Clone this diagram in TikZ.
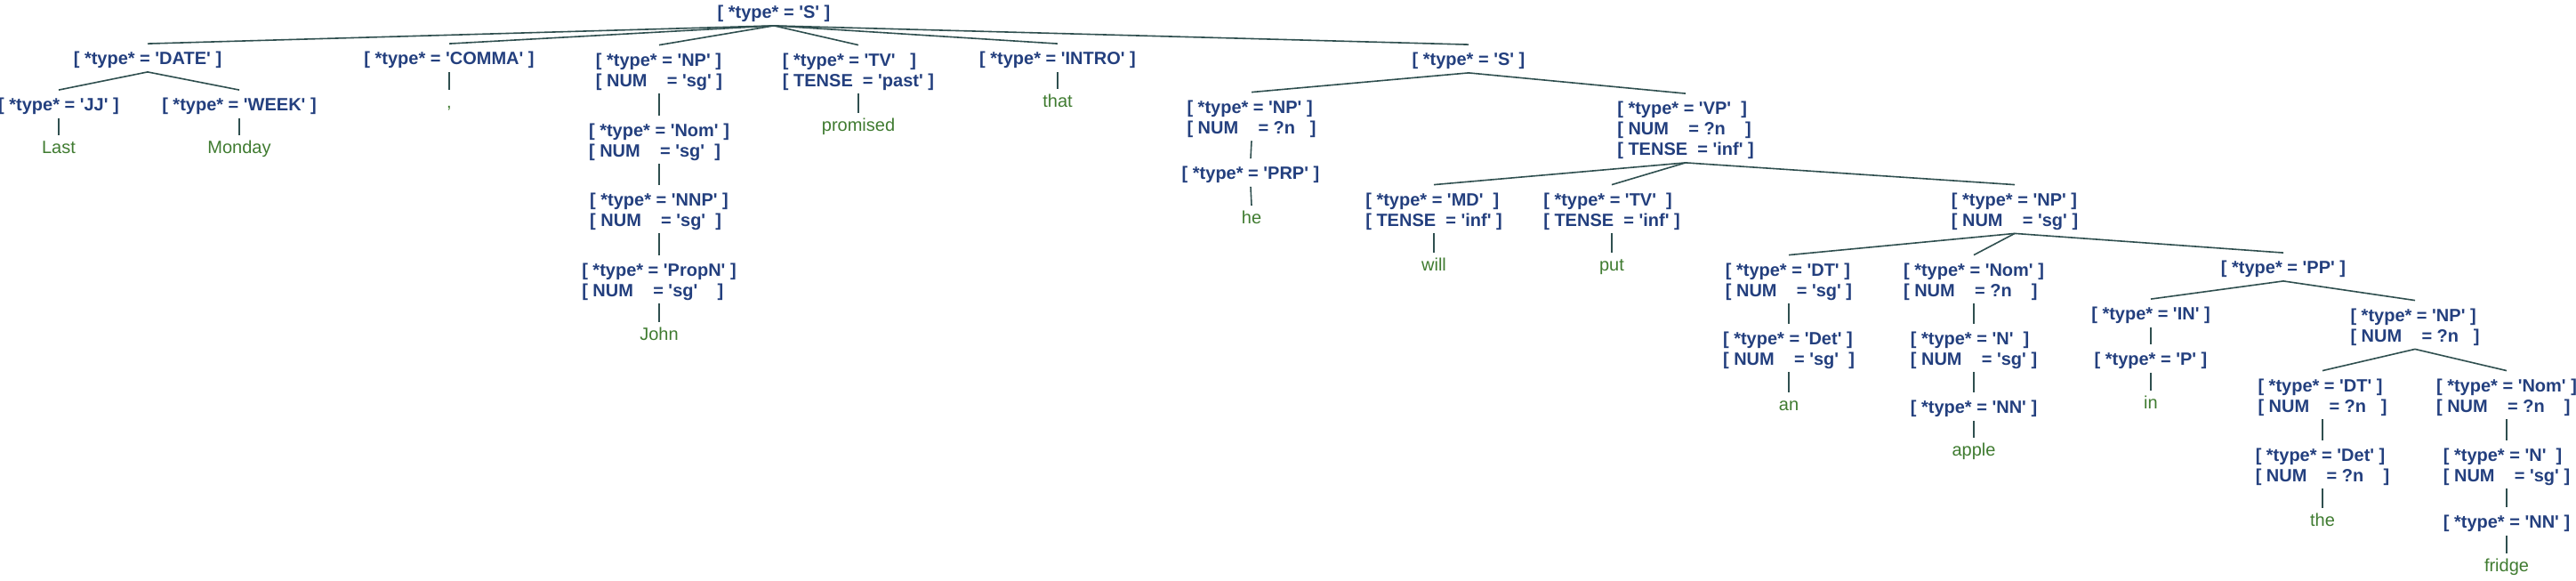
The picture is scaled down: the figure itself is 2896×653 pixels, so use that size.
\documentclass[tikz,border=0pt]{standalone}
\usepackage{fontspec}
\setmainfont{Liberation Sans}

\definecolor{fsblue}{HTML}{233F7E}
\definecolor{leafgreen}{HTML}{3F7B30}
\definecolor{branchgray}{HTML}{2F4F4F}

\newcommand{\q}[1]{\textquotesingle#1\textquotesingle}
\newcommand{\avm}[1]{\begin{tabular}{@{}l@{}}#1\end{tabular}}
% rows padded the way the feature structure prints them
\newcommand{\fty}[2][]{[ *type* = \q{#2}#1 ]}
\newcommand{\fnum}[2][]{\\ {[} NUM\ \ \ \ = #2#1 ]}
\newcommand{\ften}[2][]{\\ {[} TENSE\ \ = #2#1 ]}

\begin{document}
\begin{tikzpicture}[
    x=0.5pt, y=-0.5pt,
    fs/.style={text=fsblue, font=\fontsize{10}{11.5}\selectfont\bfseries, inner xsep=1pt, inner ysep=0.5pt},
    leaf/.style={text=leafgreen, font=\fontsize{10}{11.5}\selectfont, text height=6.5pt, text depth=2pt, inner ysep=0.5pt},
    branch/.style={draw=branchgray, line width=0.8pt}
]
\useasboundingbox (0,0) rectangle (2896,653);

% top level
\node[fs] (root) at (870,16) {\avm{\fty{S}}};
\node[fs] (date) at (166,68) {\avm{\fty{DATE}}};
\node[fs] (jj) at (66,120) {\avm{\fty{JJ}}};
\node[fs] (week) at (269,120) {\avm{\fty{WEEK}}};
\node[leaf] (wlast) at (66,168) {Last};
\node[leaf] (wmonday) at (269,168) {Monday};
\node[fs] (comma) at (505,68) {\avm{\fty{COMMA}}};
\node[leaf] (wcomma) at (505,117) {,};

% subject
\node[fs] (np1) at (741,81) {\avm{\fty{NP}\fnum{\q{sg}}}};
\node[fs] (nom1) at (741,160) {\avm{\fty{Nom}\fnum[\ ]{\q{sg}}}};
\node[fs] (nnp) at (741,238) {\avm{\fty{NNP}\fnum[\ ]{\q{sg}}}};
\node[fs] (propn) at (741,317) {\avm{\fty{PropN}\fnum[\ \ \ ]{\q{sg}}}};
\node[leaf] (wjohn) at (741,378) {John};
\node[fs] (tv1) at (965,81) {\avm{\fty[\ \ ]{TV}\ften{\q{past}}}};
\node[leaf] (wpromised) at (965,143) {promised};
\node[fs] (intro) at (1189,68) {\avm{\fty{INTRO}}};
\node[leaf] (wthat) at (1189,116) {that};

% embedded clause
\node[fs] (s2) at (1651,69) {\avm{\fty{S}}};
\node[fs] (np2) at (1407,134) {\avm{\fty{NP}\fnum[\ \ ]{?n}}};
\node[fs] (prp) at (1406,197) {\avm{\fty{PRP}}};
\node[leaf] (whe) at (1407,247) {he};
\node[fs] (vp) at (1895,147) {\avm{\fty[\ ]{VP}\fnum[\ \ \ ]{?n}\ften{\q{inf}}}};
\node[fs] (md) at (1612,238) {\avm{\fty[\ ]{MD}\ften{\q{inf}}}};
\node[leaf] (wwill) at (1612,300) {will};
\node[fs] (tv2) at (1812,238) {\avm{\fty[\ ]{TV}\ften{\q{inf}}}};
\node[leaf] (wput) at (1812,300) {put};

% object
\node[fs] (np3) at (2265,238) {\avm{\fty{NP}\fnum{\q{sg}}}};
\node[fs] (dt1) at (2011,317) {\avm{\fty{DT}\fnum{\q{sg}}}};
\node[fs] (det1) at (2011,394) {\avm{\fty{Det}\fnum[\ ]{\q{sg}}}};
\node[leaf] (wan) at (2011,457) {an};
\node[fs] (nom2) at (2219,317) {\avm{\fty{Nom}\fnum[\ \ \ ]{?n}}};
\node[fs] (n1) at (2219,394) {\avm{\fty[\ ]{N}\fnum{\q{sg}}}};
\node[fs] (nn1) at (2219,460) {\avm{\fty{NN}}};
\node[leaf] (wapple) at (2219,508) {apple};

% prepositional phrase
\node[fs] (pp) at (2567,303) {\avm{\fty{PP}}};
\node[fs] (in) at (2418,355) {\avm{\fty{IN}}};
\node[fs] (p) at (2418,406) {\avm{\fty{P}}};
\node[leaf] (win) at (2418,455) {in};
\node[fs] (np4) at (2715,368) {\avm{\fty{NP}\fnum[\ \ ]{?n}}};
\node[fs] (dt2) at (2611,447) {\avm{\fty{DT}\fnum[\ \ ]{?n}}};
\node[fs] (det2) at (2611,525) {\avm{\fty{Det}\fnum[\ \ \ ]{?n}}};
\node[leaf] (wthe) at (2611,587) {the};
\node[fs] (nom3) at (2818,447) {\avm{\fty{Nom}\fnum[\ \ \ ]{?n}}};
\node[fs] (n2) at (2818,525) {\avm{\fty[\ ]{N}\fnum{\q{sg}}}};
\node[fs] (nn2) at (2818,589) {\avm{\fty{NN}}};
\node[leaf] (wfridge) at (2818,638) {fridge};

\foreach \p/\c in {root/date, root/comma, root/np1, root/tv1, root/intro, root/s2,
    date/jj, date/week, jj/wlast, week/wmonday, comma/wcomma,
    np1/nom1, nom1/nnp, nnp/propn, propn/wjohn, tv1/wpromised, intro/wthat,
    s2/np2, s2/vp, np2/prp, prp/whe, vp/md, vp/tv2, vp/np3, md/wwill, tv2/wput,
    np3/dt1, np3/nom2, np3/pp, dt1/det1, det1/wan, nom2/n1, n1/nn1, nn1/wapple,
    pp/in, pp/np4, in/p, p/win, np4/dt2, np4/nom3, dt2/det2, det2/wthe,
    nom3/n2, n2/nn2, nn2/wfridge}
  \draw[branch] (\p.south) -- ([yshift=3pt]\c.north);
\end{tikzpicture}
\end{document}
